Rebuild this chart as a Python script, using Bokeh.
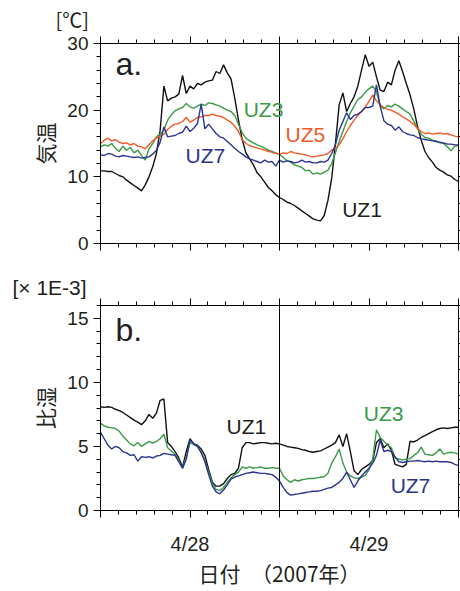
from bokeh.plotting import figure
from bokeh.layouts import column
from bokeh.models import (Range1d, FixedTicker, SingleIntervalTicker, LinearAxis, Span, Label,
                          CustomLabelingPolicy, Title)
from bokeh.embed import file_html
from bokeh.resources import INLINE

# time axis: hours since 2007-04-28 00:00, 30-min steps
hours = [i * 0.5 for i in range(97)]

uz1_temp = [10.9, 10.9, 10.8, 10.8, 10.5, 10.2, 10.0, 9.5, 9.1, 8.7,
            8.3, 7.9, 8.8, 10.0, 11.5, 13.5, 17.0, 23.6, 21.4, 21.8,
            22.0, 22.4, 25.2, 22.5, 23.6, 23.2, 24.0, 23.8, 24.2, 24.4,
            24.5, 25.8, 25.5, 26.8, 25.6, 24.7, 21.8, 18.5, 15.6, 13.6,
            12.7, 11.8, 10.6, 10.0, 9.2, 8.4, 7.9, 7.3, 6.9, 6.6,
            6.2, 6.0, 5.7, 5.3, 4.9, 4.5, 4.1, 3.7, 3.5, 3.4,
            4.2, 6.5, 9.8, 15.0, 20.8, 22.6, 19.8, 21.0, 22.0, 23.6,
            26.0, 28.3, 26.6, 27.2, 25.0, 23.0, 22.8, 24.2, 23.8, 26.0,
            27.4, 25.8, 24.0, 22.3, 20.2, 17.6, 15.5, 13.8, 12.9, 12.2,
            11.4, 11.0, 10.7, 10.3, 10.1, 9.6, 9.3]
uz3_temp = [14.5, 14.8, 14.6, 15.0, 14.3, 13.8, 14.6, 14.0, 14.4, 13.6,
            14.0, 13.2, 12.5, 14.2, 15.0, 16.0, 16.4, 17.0, 18.5, 19.3,
            19.9, 20.2, 20.4, 21.0, 20.5, 20.3, 20.6, 20.9, 20.7, 21.1,
            21.0, 20.8, 20.6, 20.3, 20.0, 19.8, 19.2, 17.9, 16.6, 15.8,
            15.4, 15.1, 14.8, 14.6, 14.3, 14.0, 13.8, 13.6, 13.4, 12.9,
            12.4, 12.2, 11.8, 11.6, 11.4, 10.9, 11.0, 10.4, 10.6, 10.4,
            10.7, 11.0, 12.0, 13.6, 15.3, 16.8, 18.3, 19.6, 20.6, 21.6,
            22.0, 22.7, 23.2, 23.6, 22.8, 20.6, 20.2, 20.7, 20.5, 20.9,
            20.6, 20.2, 19.8, 19.4, 18.4, 17.2, 16.4, 15.9, 15.8, 15.5,
            15.4, 15.1, 15.0, 14.5, 13.9, 14.6, 14.7]
uz5_temp = [15.0, 15.5, 15.8, 15.4, 15.6, 15.2, 15.0, 15.1, 14.8, 15.0,
            14.6, 14.5, 14.2, 14.8, 15.4, 15.8, 16.1, 16.4, 17.1, 17.6,
            17.9, 18.0, 18.3, 18.9, 18.2, 18.5, 18.9, 19.0, 19.2, 19.2,
            19.4, 19.2, 19.1, 18.9, 18.5, 18.2, 17.6, 16.8, 15.6, 15.0,
            14.7, 14.5, 14.3, 14.2, 14.0, 13.8, 13.7, 13.5, 13.4, 13.6,
            13.5, 13.8, 13.6, 13.5, 13.4, 13.3, 13.1, 13.0, 13.1, 13.2,
            13.3, 13.5, 14.0, 14.3, 14.8, 15.7, 16.8, 17.7, 18.5, 19.2,
            19.8, 20.5, 21.3, 22.3, 21.4, 20.8, 20.4, 20.1, 20.0, 19.7,
            19.4, 19.0, 18.7, 18.3, 17.9, 17.3, 16.8, 16.5, 16.6, 16.4,
            16.5, 16.6, 16.4, 16.5, 16.3, 16.1, 16.0]
uz7_temp = [13.3, 13.2, 13.5, 13.4, 13.1, 13.0, 13.2, 13.1, 13.0, 12.9,
            13.0, 12.8, 12.9, 13.0, 13.4, 14.0, 15.2, 17.5, 16.0, 16.1,
            16.2, 16.5, 16.7, 17.6, 16.8, 17.3, 18.0, 20.9, 17.2, 17.9,
            17.2, 16.5, 16.0, 15.8, 15.3, 14.8, 14.3, 13.8, 13.4, 13.0,
            12.7, 12.5, 12.3, 12.1, 12.5, 12.2, 12.3, 11.6, 12.5, 12.2,
            12.4, 12.3, 12.1, 12.2, 12.5, 12.2, 12.3, 12.1, 12.1, 12.3,
            12.2, 12.5, 13.5, 14.8, 17.0, 18.3, 19.6, 18.6, 19.2, 19.4,
            19.8, 20.4, 20.4, 20.6, 23.8, 20.6, 18.4, 17.9, 17.7, 17.0,
            17.5, 16.8, 16.5, 16.3, 16.2, 15.9, 15.7, 15.6, 15.5, 15.4,
            15.3, 15.2, 15.1, 14.9, 14.9, 14.8, 14.8]

uz1_q = [8.1, 8.05, 8.1, 8.05, 7.9, 7.8, 7.65, 7.45, 7.25, 7.05,
         6.9, 6.7, 7.0, 7.5, 7.2, 7.6, 8.6, 8.7, 5.3, 5.0,
         4.6, 4.1, 3.4, 4.6, 5.6, 5.2, 5.1, 4.8, 4.3, 3.2,
         2.2, 1.9, 1.9, 2.1, 2.5, 2.8, 2.9, 3.3, 4.9, 5.3,
         5.3, 5.2, 5.25, 5.3, 5.3, 5.25, 5.2, 5.25, 5.2, 5.1,
         5.0, 4.95, 4.9, 4.85, 4.75, 4.7, 4.6, 4.55, 4.6, 4.65,
         4.8, 4.95, 5.1, 5.3, 5.9, 5.0, 6.0, 4.6, 3.1, 2.8,
         3.2, 3.4, 3.6, 3.9, 5.3, 5.6, 4.9, 5.2, 4.7, 3.6,
         3.5, 3.4, 3.6, 5.4, 5.35, 5.5, 5.7, 5.85, 6.0, 6.15,
         6.3, 6.4, 6.45, 6.4, 6.45, 6.5, 6.5]
uz3_q = [6.8, 6.6, 6.5, 6.45, 6.4, 6.2, 5.8, 5.5, 5.2, 5.05,
         5.3, 5.0, 5.2, 5.4, 5.25, 5.4, 5.6, 5.95, 4.9, 4.65,
         4.4, 3.9, 3.3, 4.2, 5.3, 5.15, 5.0, 4.6, 3.9, 3.0,
         2.1, 1.65, 1.55, 1.8, 2.2, 2.55, 2.8, 3.0, 3.4, 3.3,
         3.4, 3.3, 3.35, 3.4, 3.3, 3.3, 3.35, 3.3, 3.3, 2.7,
         2.4, 2.2, 2.4, 2.3, 2.4, 2.45, 2.5, 2.5, 2.55, 2.6,
         2.65, 2.9, 3.7, 4.2, 4.8, 3.7, 3.0, 2.7, 2.55, 2.5,
         2.6, 2.75, 3.2, 4.0, 6.3, 5.7, 5.4, 5.1, 4.9, 4.1,
         4.0, 3.95, 4.0, 4.05, 4.3, 4.5, 4.95, 4.4, 4.35, 4.3,
         4.5, 4.8, 4.4, 4.5, 4.55, 4.5, 4.4]
uz7_q = [6.1, 5.6, 5.1, 4.8, 5.0, 4.9, 4.6, 4.5, 4.3, 4.35,
         3.85, 4.2, 4.15, 4.2, 4.1, 4.25, 4.3, 4.45, 4.4, 4.35,
         4.3, 3.8, 3.3, 4.0, 5.5, 5.2, 5.0, 4.5, 3.8, 2.8,
         1.9, 1.45, 1.3, 1.6, 2.0, 2.45, 2.6, 2.7, 2.8, 2.9,
         2.95, 3.0, 2.95, 2.9, 2.9, 2.85, 2.8, 2.6, 2.3, 1.8,
         1.4, 1.2, 1.25, 1.3, 1.35, 1.4, 1.45, 1.5, 1.5, 1.55,
         1.65, 1.75, 1.8, 2.0, 2.2, 2.5, 3.0, 2.4, 1.8, 2.3,
         2.7, 3.0, 3.3, 3.7, 4.3, 5.5, 4.6, 4.7, 4.6, 4.2,
         3.8, 3.75, 3.8, 3.85, 3.85, 3.9, 3.85, 3.8, 3.85, 3.8,
         3.85, 3.8, 3.8, 3.8, 3.75, 3.6, 3.5]

x_major = [0, 12, 24, 36, 48]
x_minor = [i * 2.4 for i in range(21)]
x_labels = {0: "", 12: "4/28", 24: "", 36: "4/29", 48: ""}

C_BLACK = "#111111"
C_GREEN = "#3a9a47"
C_ORANGE = "#f05a28"
C_BLUE = "#2b3590"
TXT = "#231f20"
SANS = "Liberation Sans"
CJK = "Noto Sans CJK JP"
LW = 1.4


def no_labels():
    return CustomLabelingPolicy(code="return []")


def style(ax, major_out=7, minor_out=4, labels=False, size="19px", standoff=5):
    ax.major_tick_out = major_out
    ax.major_tick_in = 0
    ax.minor_tick_out = minor_out
    ax.minor_tick_in = 0
    ax.axis_line_color = "black"
    ax.major_tick_line_color = "black"
    ax.minor_tick_line_color = "black"
    ax.major_label_text_font = SANS
    ax.major_label_text_color = TXT
    ax.major_label_standoff = standoff
    if labels:
        ax.major_label_text_font_size = size
    else:
        ax.major_label_text_font_size = "0px"
        ax.major_label_policy = no_labels()


def make_fig(height, ymax, yint, btop, bbottom, ylabel, unit, unit_font, unit_size, unit_offset, unit_standoff):
    p = figure(width=460, height=height, x_range=Range1d(0, 48), y_range=Range1d(0, ymax),
               x_axis_type=None, y_axis_type=None, output_backend="svg", toolbar_location=None,
               min_border_left=100, min_border_right=2, min_border_top=btop, min_border_bottom=bbottom)
    p.outline_line_color = "black"
    p.outline_line_width = 1
    p.background_fill_color = "white"
    p.border_fill_color = "white"

    left = LinearAxis(ticker=SingleIntervalTicker(interval=yint, num_minor_ticks=5))
    style(left, labels=True, size="19px", standoff=5)
    left.axis_label = ylabel
    left.axis_label_text_font = CJK
    left.axis_label_text_font_size = "21px"
    left.axis_label_text_font_style = "normal"
    left.axis_label_text_color = TXT
    left.axis_label_standoff = 4
    p.add_layout(left, "left")

    right = LinearAxis(ticker=SingleIntervalTicker(interval=yint, num_minor_ticks=5))
    style(right, major_out=2, minor_out=2, standoff=0)
    p.add_layout(right, "right")

    top = LinearAxis(ticker=FixedTicker(ticks=x_major, minor_ticks=x_minor))
    style(top, standoff=0)
    p.add_layout(top, "above")

    # unit text sits above the frame, to the left (in the border area)
    p.add_layout(Title(text=unit, align="left", offset=unit_offset, standoff=unit_standoff,
                       text_font=unit_font, text_font_size=unit_size, text_font_style="normal",
                       text_color=TXT), "above")

    p.add_layout(Span(location=24, dimension="height", line_color="black", line_width=1))
    return p


p1 = make_fig(272, 30, 10, 39, 29, "気温", "[℃]", CJK, "20px", -45, 5)
b1 = LinearAxis(ticker=FixedTicker(ticks=x_major, minor_ticks=x_minor))
style(b1, standoff=0)
p1.add_layout(b1, "below")

p1.line(hours, uz1_temp, line_color=C_BLACK, line_width=LW)
p1.line(hours, uz3_temp, line_color=C_GREEN, line_width=LW)
p1.line(hours, uz5_temp, line_color=C_ORANGE, line_width=LW)
p1.line(hours, uz7_temp, line_color=C_BLUE, line_width=LW)

p1.add_layout(Label(x=2.0, y=26.9, text="a.", text_font=SANS, text_font_size="32px",
                    text_baseline="alphabetic", text_color=TXT))
for tx, ty, t, c in [(19.2, 20.05, "UZ3", C_GREEN), (24.8, 16.35, "UZ5", C_ORANGE),
                     (11.4, 13.15, "UZ7", C_BLUE), (32.4, 5.05, "UZ1", TXT)]:
    p1.add_layout(Label(x=tx, y=ty, text=t, text_font=SANS, text_font_size="21px",
                        text_baseline="alphabetic", text_color=c))

p2 = make_fig(319, 16, 5, 33, 81, "比湿", "[× 1E-3]", SANS, "21px", -88, 0)
b2 = LinearAxis(ticker=FixedTicker(ticks=x_major, minor_ticks=x_minor))
style(b2, labels=True, size="20px", standoff=15)
b2.major_label_overrides = x_labels
b2.major_label_policy = CustomLabelingPolicy(code="return [1, 3]")
b2.axis_label = "日付　（2007年）"
b2.axis_label_text_font = CJK
b2.axis_label_text_font_size = "21px"
b2.axis_label_text_font_style = "normal"
b2.axis_label_text_color = TXT
b2.axis_label_standoff = 0
p2.add_layout(b2, "below")

p2.line(hours, uz1_q, line_color=C_BLACK, line_width=LW)
p2.line(hours, uz3_q, line_color=C_GREEN, line_width=LW)
p2.line(hours, uz7_q, line_color=C_BLUE, line_width=LW)

p2.add_layout(Label(x=2.0, y=14.1, text="b.", text_font=SANS, text_font_size="32px",
                    text_baseline="alphabetic", text_color=TXT))
for tx, ty, t, c in [(16.9, 6.52, "UZ1", TXT), (35.3, 7.56, "UZ3", C_GREEN), (38.9, 1.99, "UZ7", C_BLUE)]:
    p2.add_layout(Label(x=tx, y=ty, text=t, text_font=SANS, text_font_size="21px",
                        text_baseline="alphabetic", text_color=c))

layout = column(p1, p2, spacing=0)
open("out.html", "w").write(file_html(layout, INLINE))
